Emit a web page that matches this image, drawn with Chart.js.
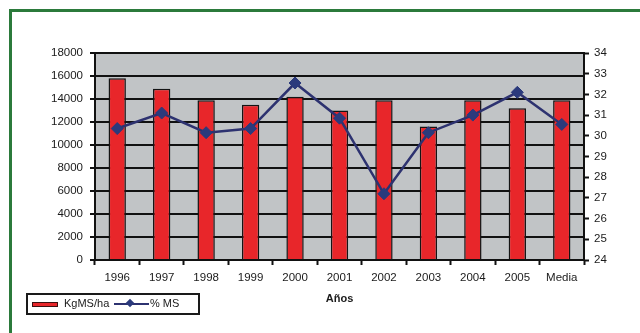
<!DOCTYPE html>
<html>
<head>
<meta charset="utf-8">
<script src="https://cdn.jsdelivr.net/npm/chart.js@4"></script>
<style>
    body { margin: 0; background: #fff; }
    #wrap { position: relative; width: 640px; height: 333px; overflow: hidden; }
    #frame { position: absolute; left: 9px; top: 9px; width: 700px; height: 400px;
        border-top: 3px solid #2b7a3b; border-left: 3px solid #2b7a3b; }
    #legend { position: absolute; left: 26px; top: 293px; width: 170px; height: 18px;
        border: 2px solid #1a1a1a; font: 11px 'Liberation Sans', Arial, sans-serif; color: #1a1a1a; }
    #legend .sw-bar { position: absolute; left: 4px; top: 7px; width: 24px; height: 3px;
        background: #e8262a; border: 1px solid #3a1010; }
    #legend .sw-line { position: absolute; left: 86px; top: 8px; width: 35px; height: 2px; background: #2d3270; }
    #legend .sw-dot { position: absolute; left: 99px; top: 5px; width: 6px; height: 6px;
        background: #2b3a7c; transform: rotate(45deg); }
    #legend span { position: absolute; top: 2px; }
</style>
</head>
<body>
<div id="wrap">
    <div id="frame"></div>
    <canvas id="chart" width="640" height="333"></canvas>
    <div id="legend">
        <div class="sw-bar"></div><span style="left:36px">KgMS/ha</span>
        <div class="sw-line"></div><div class="sw-dot"></div><span style="left:122px">% MS</span>
    </div>
</div>
<script>
// data
const years = ['1996', '1997', '1998', '1999', '2000', '2001', '2002', '2003', '2004', '2005', 'Media'];
const kgMSha = [15800, 14900, 13900, 13500, 14200, 13000, 13900, 11600, 13900, 13200, 13900];
const pctMS = [30.35, 31.1, 30.15, 30.35, 32.55, 30.85, 27.2, 30.15, 31.0, 32.1, 30.55];

const FONT = { family: "'Liberation Sans', Arial, sans-serif", size: 11.5 };

// gray plot background
const plotBg = {
    id: 'plotBg',
    beforeDraw(chart) {
        const { ctx, chartArea: a } = chart;
        ctx.save();
        ctx.fillStyle = '#c1c4c6';
        ctx.fillRect(a.left, a.top, a.right - a.left, a.bottom - a.top);
        ctx.restore();
    }
};

new Chart(document.getElementById('chart'), {
    type: 'bar',
    data: {
        labels: years,
        datasets: [{
            type: 'line',
            label: '% MS',
            data: pctMS,
            yAxisID: 'y1',
            borderColor: '#2d3270',
            borderWidth: 2.5,
            backgroundColor: '#2b3a7c',
            pointStyle: 'rectRot',
            pointRadius: 6,
            pointBorderWidth: 1,
            pointBorderColor: '#2b3a7c',
            tension: 0,
            order: 0
        }, {
            label: 'KgMS/ha',
            data: kgMSha,
            yAxisID: 'y',
            backgroundColor: '#e8262a',
            borderColor: '#141414',
            borderWidth: 1.5,
            categoryPercentage: 1,
            barPercentage: 0.39,
            order: 1
        }]
    },
    options: {
        responsive: false,
        animation: false,
        layout: { padding: { top: 53, left: 0, right: 0, bottom: 0 } },
        plugins: { legend: { display: false }, tooltip: { enabled: false } },
        scales: {
            x: {
                grid: { drawOnChartArea: false, drawTicks: true, tickLength: 5, tickColor: '#111', tickWidth: 2 },
                border: { color: '#111', width: 2 },
                ticks: { color: '#1a1a1a', font: FONT, padding: 6, maxRotation: 0 },
                title: { display: true, text: 'Años', color: '#1a1a1a', padding: { top: 0, bottom: 27 },
                    font: { family: FONT.family, size: 11, weight: 'bold' } },
                afterFit(s) { s.height = 73; }
            },
            y: {
                position: 'left',
                min: 0, max: 18000,
                ticks: { stepSize: 2000, color: '#1a1a1a', font: FONT, padding: 7, callback: v => String(v) },
                grid: { color: '#111', lineWidth: 2, tickLength: 5 },
                border: { color: '#111', width: 2 },
                afterFit(s) { s.width = 95; }
            },
            y1: {
                position: 'right',
                min: 24, max: 34,
                ticks: { stepSize: 1, color: '#1a1a1a', font: FONT, padding: 5, callback: v => String(v) },
                grid: { drawOnChartArea: false, tickLength: 5, tickColor: '#111', tickWidth: 2 },
                border: { color: '#111', width: 2 },
                afterFit(s) { s.width = 56; }
            }
        }
    },
    plugins: [plotBg]
});
</script>
</body>
</html>
